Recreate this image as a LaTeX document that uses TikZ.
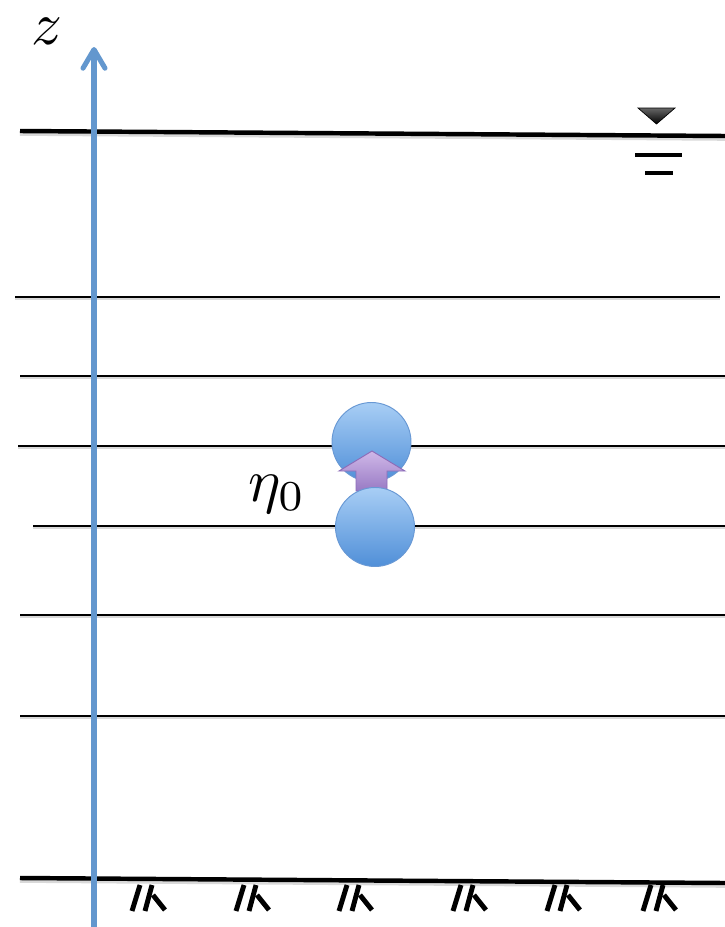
\documentclass[tikz,border=0pt]{standalone}
\usetikzlibrary{arrows.meta}
\definecolor{ejeazul}{RGB}{99,151,206}
\definecolor{bolaarriba}{RGB}{168,206,245}
\definecolor{bolaabajo}{RGB}{80,143,216}
\definecolor{bolaborde}{RGB}{104,152,212}
\definecolor{flechaarriba}{RGB}{208,184,232}
\definecolor{flechaabajo}{RGB}{152,122,196}
\definecolor{flechaborde}{RGB}{140,108,184}
\tikzset{
  capa/.style={line width=1.9pt, preaction={draw=black!15, line width=2.4pt, transform canvas={yshift=-1.5pt}}},
  nivel/.style={line width=3.8pt, preaction={draw=black!15, line width=4.2pt, transform canvas={yshift=-2pt}}},
  marca/.style={line width=4.2pt, line cap=butt},
  bola/.style={circle, minimum size=23.7mm, inner sep=0pt, draw=bolaborde, line width=0.8pt,
    top color=bolaarriba, bottom color=bolaabajo},
  letra/.style={scale=5.2, inner sep=0pt},
}
\begin{document}
\begin{tikzpicture}[x=0.3mm, y=-0.3mm]
    \useasboundingbox (0,0) rectangle (725,927);

    % Coordenadas del eje z
    \coordinate (zbot) at (94,927);
    \coordinate (ztop) at (94,47);

    % Superficie libre y fondo
    \draw[nivel] (20,131) -- (725,136);
    \draw[nivel] (20,878) -- (725,883);

    % Capas horizontales
    \draw[capa] (15,297) -- (720,297);
    \draw[capa] (20,376) -- (725,376);
    \draw[capa] (18,446) -- (725,446);
    \draw[capa] (33,526) -- (725,526);
    \draw[capa] (20,615) -- (725,615);
    \draw[capa] (20,716) -- (725,716);

    % Eje z
    \draw[ejeazul, line width=4.3pt, -{Straight Barb[length=5.6mm, width=6.6mm, round]}] (zbot) -- (ztop);
    \node[letra] (zlab) at (47,31) {$z$};

    % Simbolo de nivel de agua
    \shade[top color=black!60, bottom color=black, draw=black, line width=0.6pt]
      (638,108) -- (675,108) -- (656.5,124) -- cycle;
    \draw[line width=4pt] (635,155) -- (682,155);
    \draw[line width=4pt] (645,173) -- (673,173);

    % Marcas del fondo
    \foreach \x in {132, 236, 339, 453, 547, 643} {
        \draw[marca] (\x+8,885) -- (\x,911);
        \draw[marca] (\x+20,885) -- (\x+13,911);
        \draw[marca] (\x+21,895) -- (\x+33,910);
    }

    % Particula desplazada
    \node[bola] (arriba) at (371.5,442) {};
    \shade[top color=flechaarriba, bottom color=flechaabajo, draw=flechaborde, line width=0.8pt]
      (356,491) -- (356,471) -- (339,471) -- (372,451) -- (405,471) -- (387,471) -- (387,491) -- cycle;
    \node[bola] (abajo) at (375,527) {};
    \node[letra] (eta) at (277,494) {$\eta_0$};

\end{tikzpicture}
\end{document}
